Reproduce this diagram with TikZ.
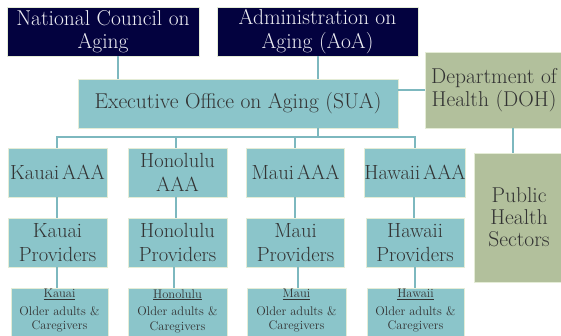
\documentclass[tikz,border=0pt]{standalone}
\usepackage{fontspec}
\definecolor{navy}{HTML}{03023F}
\definecolor{tealbox}{HTML}{8BC5CA}
\definecolor{olivebox}{HTML}{B2C09C}
\definecolor{edgeline}{HTML}{E4ECD6}
\definecolor{wire}{HTML}{7DB8BF}
\definecolor{ink}{HTML}{333333}
\definecolor{paleink}{HTML}{ECECF2}
\newcommand{\tightsp}{\hspace{0.14em}}
\tikzset{
  box/.style={draw=edgeline, line width=0.9pt, inner sep=0pt, align=center,
    font=\fontsize{20.5}{23.5}\selectfont},
  darkbox/.style={box, fill=navy, text=paleink},
  tbox/.style={box, fill=tealbox, text=ink},
  obox/.style={box, fill=olivebox, text=ink},
  smalltxt/.style={inner sep=0pt, align=center, text=ink,
    font=\fontsize{12.5}{14.5}\selectfont},
  wirestyle/.style={draw=wire, line width=2pt}
}
\begin{document}
\begin{tikzpicture}[x=1pt, y=-1pt]
\useasboundingbox (0,0) rectangle (561,336);

% top level
\node[darkbox, minimum width=192pt, minimum height=49pt, font=\fontsize{21.5}{23.5}\selectfont] (nca) at (103,31.5) {National Council on\\Aging};
\node[darkbox, minimum width=201pt, minimum height=49pt, font=\fontsize{21.5}{23.5}\selectfont] (aoa) at (317.5,31.5) {Administration on\\Aging (AoA)};

% state level
\node[tbox, minimum width=320pt, minimum height=49pt, font=\fontsize{21.5}{23.5}\selectfont] (eo) at (238,103.5) {Executive Office on Aging (SUA)};
\node[obox, minimum width=138pt, minimum height=76pt, font=\fontsize{21.5}{23.5}\selectfont] (doh) at (494,90) {Department of\\Health (DOH)};
\node[obox, minimum width=90pt, minimum height=129pt, font=\fontsize{21.5}{22}\selectfont] (phs) at (519,217.5) {Public\\Health\\Sectors};

% area agencies
\node[tbox, minimum width=99pt, minimum height=49pt] (kaa) at (57.5,172.5) {Kauai\tightsp AAA};
\node[tbox, minimum width=99pt, minimum height=49pt] (haa) at (177.5,172.5) {Honolulu\\AAA};
\node[tbox, minimum width=98pt, minimum height=49pt] (maa) at (295.5,172.5) {Maui\tightsp AAA};
\node[tbox, minimum width=98pt, minimum height=49pt] (waa) at (415,172.5) {Hawaii\tightsp AAA};

% providers
\node[tbox, minimum width=99pt, minimum height=49pt] (kpr) at (57.5,242.5) {Kauai\\Providers};
\node[tbox, minimum width=99pt, minimum height=49pt] (hpr) at (177.5,242.5) {Honolulu\\Providers};
\node[tbox, minimum width=98pt, minimum height=49pt] (mpr) at (295.5,242.5) {Maui\\Providers};
\node[tbox, minimum width=98pt, minimum height=49pt] (wpr) at (415,242.5) {Hawaii\\Providers};

% clients
\node[tbox, minimum width=97pt, minimum height=64pt] (kcl) at (59.5,320) {};
\node[tbox, minimum width=99pt, minimum height=64pt] (hcl) at (177.5,320) {};
\node[tbox, minimum width=99pt, minimum height=64pt] (mcl) at (296.5,320) {};
\node[tbox, minimum width=97pt, minimum height=64pt] (wcl) at (415.5,320) {};
\node[smalltxt] (kclt) at (59.5,311) {\underline{Kauai}\\[3pt]Older adults \&\\Caregivers};
\node[smalltxt] (hclt) at (177.5,311) {\underline{Honolulu}\\[3pt]Older adults \&\\Caregivers};
\node[smalltxt] (mclt) at (296.5,311) {\underline{Maui}\\[3pt]Older adults \&\\Caregivers};
\node[smalltxt] (wclt) at (415.5,311) {\underline{Hawaii}\\[3pt]Older adults \&\\Caregivers};

% connectors
\coordinate (bus) at (318,137);
\draw[wirestyle] (118,0 |- nca.south) -- (118,0 |- eo.north);
\draw[wirestyle] (318,0 |- aoa.south) -- (318,0 |- eo.north);
\draw[wirestyle] (eo.east |- 0,90) -- (doh.west |- 0,90);
\draw[wirestyle] (513,0 |- doh.south) -- (513,0 |- phs.north);
\draw[wirestyle] (bus |- eo.south) -- (bus);
\draw[wirestyle] (57,0 |- kaa.north) |- (bus) -| (415,0 |- waa.north);
\draw[wirestyle] (176,0 |- haa.north) -- (176,0 |- bus);
\draw[wirestyle] (295,0 |- maa.north) -- (295,0 |- bus);
\draw[wirestyle] (57,0 |- kaa.south) -- (57,0 |- kpr.north);
\draw[wirestyle] (176,0 |- haa.south) -- (176,0 |- hpr.north);
\draw[wirestyle] (295,0 |- maa.south) -- (295,0 |- mpr.north);
\draw[wirestyle] (414,0 |- waa.south) -- (414,0 |- wpr.north);
\draw[wirestyle] (57,0 |- kpr.south) -- (57,0 |- kcl.north);
\draw[wirestyle] (174,0 |- hpr.south) -- (174,0 |- hcl.north);
\draw[wirestyle] (298,0 |- mpr.south) -- (298,0 |- mcl.north);
\draw[wirestyle] (415,0 |- wpr.south) -- (415,0 |- wcl.north);
\end{tikzpicture}
\end{document}
